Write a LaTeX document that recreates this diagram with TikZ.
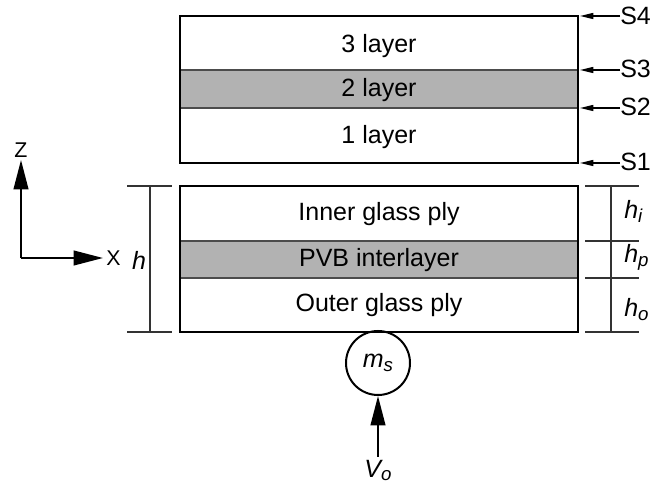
\documentclass[tikz,border=0pt]{standalone}
\usepackage{fontspec}
\setmainfont{Liberation Sans}
\usetikzlibrary{arrows.meta,positioning}
\newcommand{\lowidx}[1]{\raisebox{-0.3ex}{\fontsize{14}{14}\selectfont\itshape #1}}

\tikzset{
  txt/.style={font=\fontsize{18.75}{22}\selectfont, inner sep=0pt, anchor=base},
  itxt/.style={txt, font=\fontsize{18.75}{22}\selectfont\itshape},
  axtxt/.style={font=\fontsize{16}{18}\selectfont, inner sep=0pt, anchor=base},
  box/.style={line width=2.2pt},
  sep/.style={line width=1pt, black!70},
  dim/.style={line width=1.2pt, black!80},
  sarrow/.style={line width=1pt, -{Triangle[length=10pt,width=4.5pt]}},
  bigarrow/.style={line width=1.5pt, -{Triangle[length=22pt,width=11pt]}},
}

\begin{document}
\begin{tikzpicture}[x=0.75pt,y=-0.75pt]
  \useasboundingbox (0,0) rectangle (662,485);
  % upper model: three layers
  \fill[black!30] (180,70) rectangle (578,108);
  \draw[sep] (180,70) -- (578,70) (180,108) -- (578,108);
  \draw[box] (180,16) rectangle (578,163);
  \node[txt] (lay3) at (379,53) {3 layer};
  \node[txt] (lay2) at (379,97) {2 layer};
  \node[txt] (lay1) at (379,144) {1 layer};
  % surfaces
  \foreach \s/\y/\b in {4/16/25, 3/70/78, 2/108/116, 1/163/171} {
    \coordinate (s\s) at (580,\y);
    \node[txt, anchor=base west] (lab\s) at (620,\b) {S\s};
    \draw[sarrow] (lab\s.west |- s\s) -- (s\s);
  }
  % lower model: laminated glass
  \fill[black!30] (180,241) rectangle (578,278);
  \draw[sep] (180,241) -- (578,241) (180,278) -- (578,278);
  \draw[box] (180,186) rectangle (578,332);
  \node[txt] (inner) at (379,221) {Inner glass ply};
  \node[txt] (pvb) at (379,267) {PVB interlayer};
  \node[txt] (outer) at (379,311) {Outer glass ply};
  % total thickness
  \draw[dim] (150,186) -- (150,332);
  \draw[dim] (127,186) -- (172,186);
  \draw[dim] (127,332) -- (172,332);
  \node[itxt] (htot) at (139,270) {h};
  % ply thicknesses
  \draw[dim] (611,186) -- (611,332);
  \foreach \y in {186,241,278,332}
    \draw[dim] (585,\y) -- (639,\y);
  \node[itxt, anchor=base west] (hi) at (624,219) {h\lowidx{i}};
  \node[itxt, anchor=base west] (hp) at (624,263) {h\lowidx{p}};
  \node[itxt, anchor=base west] (ho) at (624,317) {h\lowidx{o}};
  % axes
  \coordinate (orig) at (21,258);
  \coordinate (zend) at (21,160);
  \coordinate (xend) at (103,258);
  \draw[bigarrow] (orig) -- (zend);
  \draw[bigarrow] (orig) -- (xend);
  \node[axtxt] (zlab) at (21,158) {Z};
  \node[axtxt, anchor=base west] (xlab) at (106,266) {X};
  % projectile
  \node[circle, draw, line width=1.5pt, inner sep=0pt, minimum size=48pt,
        font=\fontsize{18.75}{22}\selectfont\itshape] (ms) at (378,363) {m\lowidx{s}};
  \node[itxt] (vo) at (378,477) {V\lowidx{o}};
  \draw[bigarrow] ([yshift=2pt]vo.north) -- (ms.south);
\end{tikzpicture}
\end{document}
